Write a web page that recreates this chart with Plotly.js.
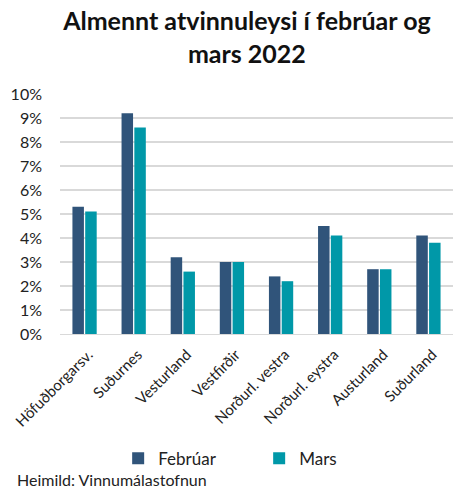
<!DOCTYPE html>
<html>
<head>
<meta charset="utf-8">
<script src="https://cdn.plot.ly/plotly-3.0.1.min.js"></script>
<style>html,body{margin:0;padding:0;background:#fff;}#chart{width:453px;height:491px;}</style>
</head>
<body>
<div id="chart"></div>
<script>
const categories = ["Höfuðborgarsv.", "Suðurnes", "Vesturland", "Vestfirðir", "Norðurl. vestra", "Norðurl. eystra", "Austurland", "Suðurland"];
const februar = [5.3, 9.2, 3.2, 3.0, 2.4, 4.5, 2.7, 4.1];
const mars = [5.1, 8.6, 2.6, 3.0, 2.2, 4.1, 2.7, 3.8];
const yTickVals = [0,1,2,3,4,5,6,7,8,9,10];
const yTickText = yTickVals.map(v => v + "%");

const font = "Lato, 'Open Sans', sans-serif";
const data = [
  {type: "bar", name: "Febrúar", x: categories, y: februar, marker: {color: "#30547A"}, hoverinfo: "none"},
  {type: "bar", name: "Mars", x: categories, y: mars, marker: {color: "#0098A8"}, hoverinfo: "none"}
];
const layout = {
  width: 453, height: 491,
  margin: {l: 60, r: 0, t: 94, b: 157},
  paper_bgcolor: "#fff", plot_bgcolor: "#fff",
  font: {family: font, color: "#222", size: 13},
  title: {text: "<b>Almennt atvinnuleysi í febrúar og<br>mars 2022</b>", x: 0.545, xanchor: "center", y: 0.938, yanchor: "middle", font: {size: 25, family: font, color: "#111"}},
  barmode: "group", bargap: 0.48, bargroupgap: 0.1,
  xaxis: {tickangle: -45, showgrid: false, showline: true, linecolor: "#d9d9d9", linewidth: 1, ticks: "", tickfont: {size: 15}, automargin: false, ticklabelstandoff: 5, ticklabelshift: 4},
  yaxis: {range: [0, 10], tickvals: yTickVals, ticktext: yTickText, showgrid: true, gridcolor: "#d9d9d9", gridwidth: 1.5, zeroline: false, ticks: "", tickfont: {size: 16}, ticklabelstandoff: 17, automargin: false},
  legend: {orientation: "h", x: 0.148, xanchor: "left", y: -0.52, yanchor: "middle", font: {size: 17}, itemwidth: 30, traceorder: "normal", entrywidth: 96},
  showlegend: true,
  annotations: [{text: "Heimild: Vinnumálastofnun", xref: "paper", yref: "paper", x: -0.115, y: -0.606, xanchor: "left", yanchor: "middle", showarrow: false, font: {size: 16, color: "#222"}}]
};
Plotly.newPlot("chart", data, layout, {displayModeBar: false, staticPlot: true});
</script>
</body>
</html>
